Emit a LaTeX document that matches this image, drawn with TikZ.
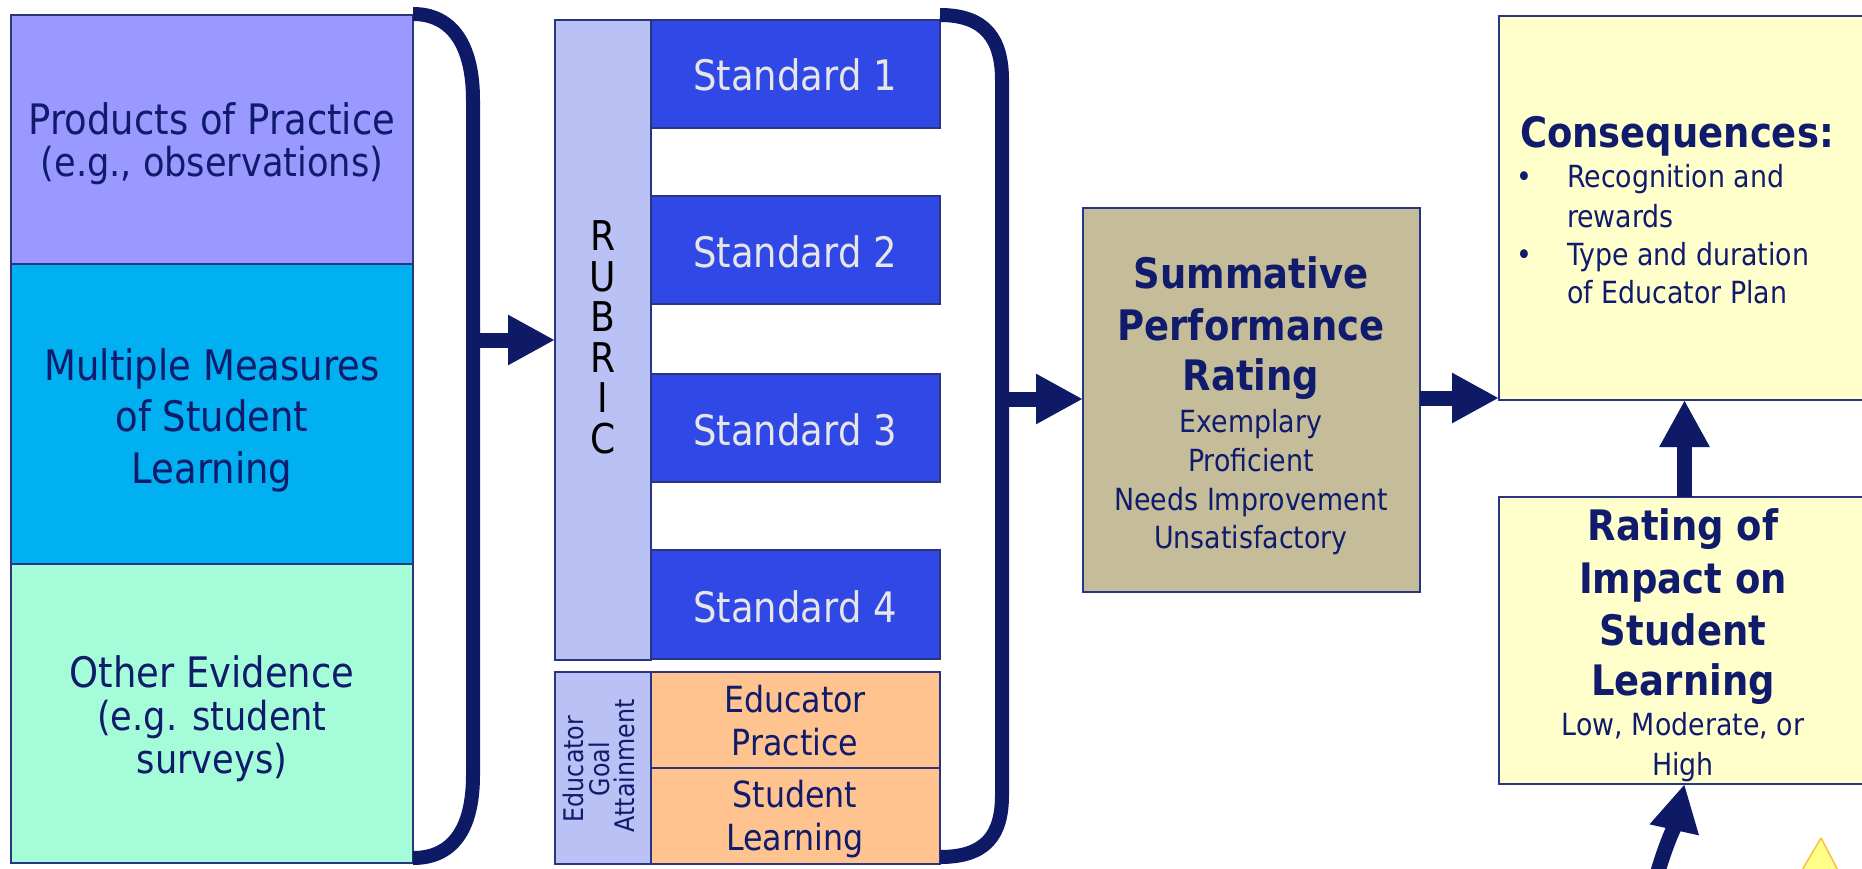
\documentclass[tikz,border=0pt]{standalone}
\usepackage{fontspec}
\setmainfont{DejaVu Sans}[FakeStretch=0.88]
\usetikzlibrary{arrows.meta}
\definecolor{navy}{HTML}{0E1A66}
\definecolor{txtnavy}{HTML}{101C6B}
\definecolor{edge}{HTML}{283580}
\definecolor{ppc}{HTML}{9999FF}
\definecolor{mmc}{HTML}{00B0F0}
\definecolor{oec}{HTML}{A4FCD9}
\definecolor{rubc}{HTML}{B9C1F5}
\definecolor{stdc}{HTML}{3048E5}
\definecolor{orgc}{HTML}{FFC390}
\definecolor{tanc}{HTML}{C5BD99}
\definecolor{ylwc}{HTML}{FFFFCC}
\definecolor{stdtxt}{HTML}{E6E6E6}
\definecolor{triedge}{HTML}{F5C242}
\definecolor{trifill}{HTML}{FFFF88}
\newcommand\szA{\fontsize{42}{50}\selectfont}
\newcommand\szB{\fontsize{40}{48}\selectfont}
\newcommand\szC{\fontsize{30.5}{38}\selectfont}
\newcommand\szD{\fontsize{36}{43}\selectfont}
\newcommand\szE{\fontsize{27}{32}\selectfont}
\newcommand\szR{\fontsize{41}{48}\selectfont}
\newcommand\txtline[5]{\node[tx,#4] (#1) at (#2,#3) {#5};}
\begin{document}
\begin{tikzpicture}[x=1pt,y=-1pt,
  panel/.style={draw=edge, line width=1.5pt, inner sep=0pt, outer sep=0pt, anchor=north west},
  tx/.style={anchor=base, inner sep=0pt, outer sep=0pt, text=txtnavy},
  fat/.style={draw=navy, line width=15pt, -{Triangle[length=47pt,width=47pt]}},
  brack/.style={draw=navy, line width=14pt}]
\useasboundingbox (0,0) rectangle (1862,869);
\fill[white] (0,0) rectangle (1862,869);
\clip (0,0) rectangle (1862,869);

% left column
\node[panel, fill=ppc, minimum width=402pt, minimum height=249pt] (pp) at (11,15) {};
\node[panel, fill=mmc, minimum width=402pt, minimum height=300pt] (mm) at (11,264) {};
\node[panel, fill=oec, minimum width=402pt, minimum height=299pt] (oe) at (11,564) {};
\txtline{pp1}{212}{135}{font=\szA}{Products of Practice}
\txtline{pp2}{212}{177}{font=\szB}{(e.g., observations)}
\txtline{mm1}{212}{380}{font=\szA}{Multiple Measures}
\txtline{mm2}{212}{431}{font=\szA}{of Student}
\txtline{mm3}{212}{483}{font=\szA}{Learning}
\txtline{oe1}{212}{687}{font=\szA}{Other Evidence}
\txtline{oe2}{212}{730}{font=\szB}{(e.g. student}
\txtline{oe3}{212}{773}{font=\szB}{surveys)}

% middle column
\node[panel, fill=rubc, minimum width=96pt, minimum height=640pt] (rubric) at (555,20) {};
\node[panel, fill=stdc, minimum width=289pt, minimum height=108pt] (s1) at (651,20) {};
\node[panel, fill=stdc, minimum width=289pt, minimum height=108pt] (s2) at (651,196) {};
\node[panel, fill=stdc, minimum width=289pt, minimum height=108pt] (s3) at (651,374) {};
\node[panel, fill=stdc, minimum width=289pt, minimum height=109pt] (s4) at (651,550) {};
\txtline{st1}{795}{91}{font=\szA,text=stdtxt}{Standard 1}
\txtline{st2}{795}{267}{font=\szA,text=stdtxt}{Standard 2}
\txtline{st3}{795}{445}{font=\szA,text=stdtxt}{Standard 3}
\txtline{st4}{795}{622}{font=\szA,text=stdtxt}{Standard 4}
\txtline{r1}{603}{250}{font=\szR,text=black}{R}
\txtline{r2}{603}{291}{font=\szR,text=black}{U}
\txtline{r3}{603}{331}{font=\szR,text=black}{B}
\txtline{r4}{603}{372}{font=\szR,text=black}{R}
\txtline{r5}{603}{412}{font=\szR,text=black}{I}
\txtline{r6}{603}{453}{font=\szR,text=black}{C}

\node[panel, fill=rubc, minimum width=96pt, minimum height=192pt] (ega) at (555,672) {};
\node[panel, fill=orgc, minimum width=289pt, minimum height=96pt] (ep) at (651,672) {};
\node[panel, fill=orgc, minimum width=289pt, minimum height=96pt] (sl) at (651,768) {};
\txtline{eg1}{583}{769}{font=\szE,rotate=90}{Educator}
\txtline{eg2}{609}{769}{font=\szE,rotate=90}{Goal}
\txtline{eg3}{634}{766}{font=\szE,rotate=90}{Attainment}
\txtline{ep1}{795}{712}{font=\szD}{Educator}
\txtline{ep2}{795}{755}{font=\szD}{Practice}
\txtline{sl1}{795}{807}{font=\szD}{Student}
\txtline{sl2}{795}{850}{font=\szD}{Learning}

% summative
\node[panel, fill=tanc, minimum width=337pt, minimum height=384pt] (spr) at (1083,208) {};
\txtline{sp1}{1251}{288}{font=\szA\bfseries}{Summative}
\txtline{sp2}{1251}{340}{font=\szA\bfseries}{Performance}
\txtline{sp3}{1251}{390}{font=\szA\bfseries}{Rating}
\txtline{sp4}{1251}{432}{font=\szC}{Exemplary}
\txtline{sp5}{1251}{471}{font=\szC}{Proficient}
\txtline{sp6}{1251}{510}{font=\szC}{Needs Improvement}
\txtline{sp7}{1251}{548}{font=\szC}{Unsatisfactory}

% right column
\node[panel, fill=ylwc, minimum width=371pt, minimum height=384pt] (cons) at (1499,16) {};
\node[panel, fill=ylwc, minimum width=371pt, minimum height=287pt] (rate) at (1499,497) {};
\txtline{cn0}{1520}{148}{font=\szA\bfseries,anchor=base west}{Consequences:}
\txtline{bu1}{1524}{188}{font=\szC}{•}
\txtline{bu2}{1524}{265}{font=\szC}{•}
\txtline{cn1}{1567}{188}{font=\szC,anchor=base west}{Recognition and}
\txtline{cn2}{1567}{227}{font=\szC,anchor=base west}{rewards}
\txtline{cn3}{1567}{265}{font=\szC,anchor=base west}{Type and duration}
\txtline{cn4}{1567}{303}{font=\szC,anchor=base west}{of Educator Plan}
\txtline{ra1}{1683}{540}{font=\szA\bfseries}{Rating of}
\txtline{ra2}{1683}{593}{font=\szA\bfseries}{Impact on}
\txtline{ra3}{1683}{645}{font=\szA\bfseries}{Student}
\txtline{ra4}{1683}{695}{font=\szA\bfseries}{Learning}
\txtline{ra5}{1683}{735}{font=\szC}{Low, Moderate, or}
\txtline{ra6}{1683}{775}{font=\szC}{High}

% brackets
\draw[brack] ([yshift=1pt]pp.north east) .. controls (452,14) and (473,45) .. (473,100)
  -- (473,775) .. controls (473,830) and (452,858) .. ([yshift=5pt]oe.south east);
\draw[brack] ([yshift=5pt]s1.north east) .. controls (986,15) and (1002,40) .. (1002,80)
  -- (1002,795) .. controls (1002,835) and (986,857) .. ([yshift=7pt]sl.south east);

% arrows
\coordinate (b1) at (473,340);
\draw[fat] (b1) -- (b1 -| rubric.west);
\coordinate (b2) at (1002,399);
\draw[fat] (b2) -- (b2 -| spr.west);
\coordinate (b3) at (1420,398);
\draw[fat] (b3) -- (b3 -| cons.west);
\draw[fat] (rate.north) -- (cons.south);
\coordinate (b4) at (1655,882);
\draw[fat] (b4) .. controls (1664,848) and (1676,822) .. (rate.south);

% warning triangle (partly visible)
\draw[draw=triedge, fill=trifill, line width=1.5pt, line join=round] (1821,838) -- (1844,882) -- (1795,882) -- cycle;
\end{tikzpicture}
\end{document}
